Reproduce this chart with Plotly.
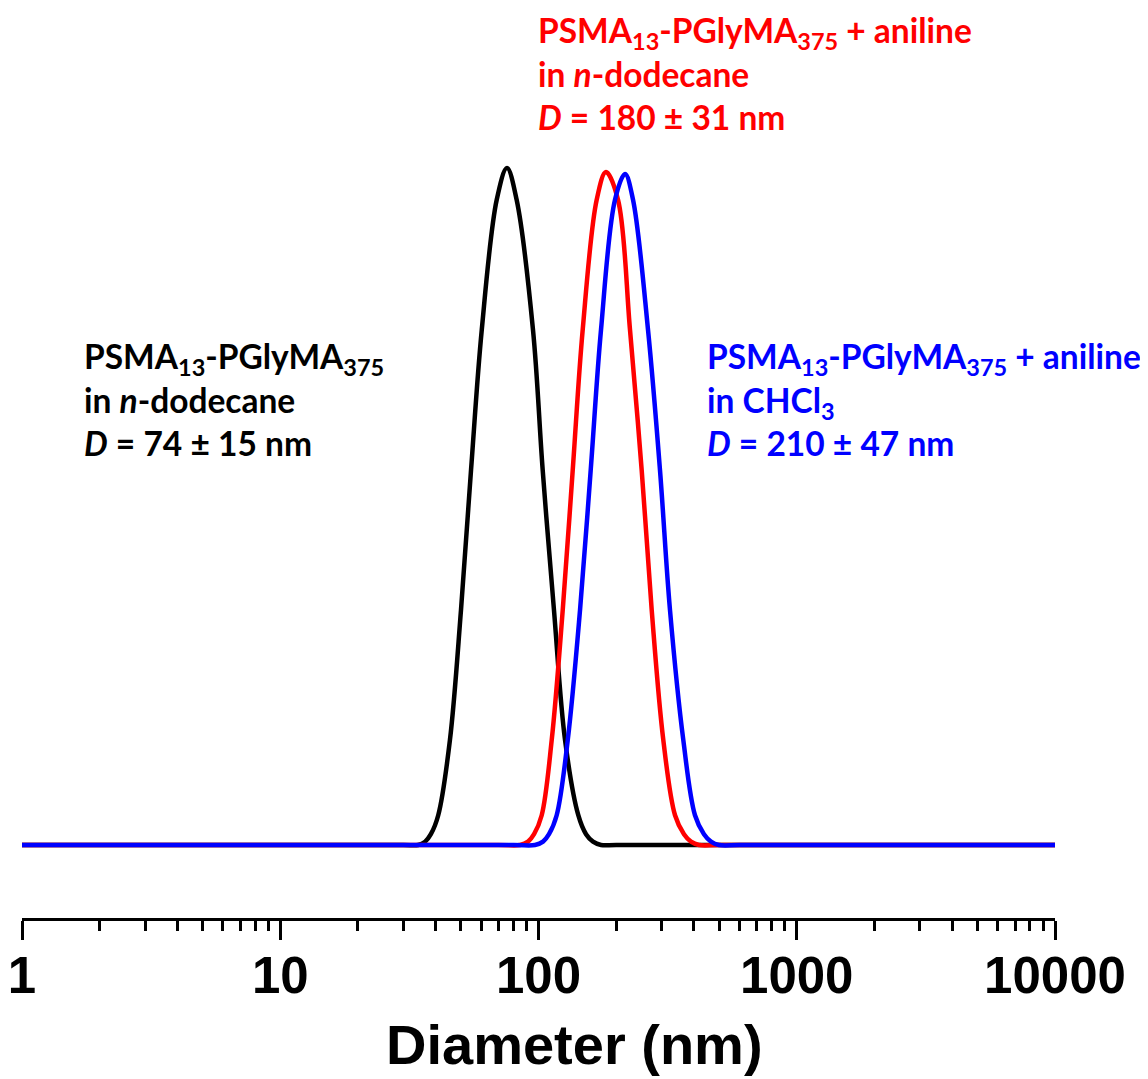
import plotly.graph_objects as go

# Hydrodynamic diameter (nm) and normalised intensity
black_d = [1, 10, 30, 34.2, 36.4, 38.3, 40.9, 45.4, 50.1, 54.8, 60.3, 68.9, 75.5, 82.3, 95.2, 103.8, 114.8, 126.7, 142.6, 152.8, 162.6, 174.6, 200, 1000, 10000]
black_i = [0, 0, 0, 0, 0.5, 1.6, 4.4, 15.5, 34.7, 55.4, 76.1, 95.3, 100, 95.3, 76.1, 55.4, 34.7, 15.5, 4.4, 1.6, 0.5, 0, 0, 0, 0]

red_d = [1, 10, 70, 84.8, 91.1, 96.1, 102.9, 112.5, 124.1, 135.7, 148.3, 168.0, 182.5, 203.2, 226.1, 250.9, 274.4, 304.3, 337.8, 365.9, 389.5, 418.3, 500, 1000, 10000]
red_i = [0, 0, 0, 0, 0.5, 1.6, 4.4, 15.5, 34.7, 55.4, 76.1, 95.3, 99.4, 95.3, 76.1, 55.4, 34.7, 15.5, 4.4, 1.6, 0.5, 0, 0, 0, 0]

blue_d = [1, 10, 80, 96.9, 104.1, 109.8, 117.6, 129.8, 144.8, 159.3, 174.6, 197.8, 216.3, 232.3, 265.5, 295.4, 323.0, 363.7, 403.6, 437.3, 465.6, 500, 600, 1000, 10000]
blue_i = [0, 0, 0, 0, 0.5, 1.6, 4.4, 15.5, 34.7, 55.4, 76.1, 95.3, 99.1, 95.3, 76.1, 55.4, 34.7, 15.5, 4.4, 1.6, 0.5, 0, 0, 0, 0]

tick_vals = [1, 10, 100, 1000, 10000]
tick_text = ["1", "10", "100", "1000", "10000"]

fig = go.Figure()
for d, i, c in [(black_d, black_i, "#000000"), (red_d, red_i, "#FF0000"), (blue_d, blue_i, "#0000FF")]:
    fig.add_trace(go.Scatter(x=d, y=i, mode="lines",
                             line=dict(color=c, width=4.5, shape="spline", smoothing=1.0),
                             hoverinfo="skip"))

ann_font = "Lato, Open Sans, sans-serif"
fig.add_annotation(xref="paper", yref="paper", x=0.058, y=0.6755, xanchor="left", yanchor="middle",
                   align="left", showarrow=False,
                   text="<b>PSMA<sub>13</sub>-PGlyMA<sub>375</sub><br>in <i>n</i>-dodecane<br><i>D</i> = 74 ± 15 nm</b>",
                   font=dict(family=ann_font, size=33.5, color="#000000"))
fig.add_annotation(xref="paper", yref="paper", x=0.661, y=0.6755, xanchor="left", yanchor="middle",
                   align="left", showarrow=False,
                   text="<b>PSMA<sub>13</sub>-PGlyMA<sub>375</sub> + aniline<br>in CHCl<sub>3</sub><br><i>D</i> = 210 ± 47 nm</b>",
                   font=dict(family=ann_font, size=33.5, color="#0000FF"))
fig.add_annotation(xref="paper", yref="paper", x=0.4975, y=1.0995, xanchor="left", yanchor="middle",
                   align="left", showarrow=False,
                   text="<b>PSMA<sub>13</sub>-PGlyMA<sub>375</sub> + aniline<br>in <i>n</i>-dodecane<br><i>D</i> = 180 ± 31 nm</b>",
                   font=dict(family=ann_font, size=33.5, color="#FF0000"))
fig.add_annotation(xref="paper", yref="paper", x=0.535, y=-0.165, xanchor="center", yanchor="middle",
                   showarrow=False, text="<b>Diameter (nm)</b>",
                   font=dict(family="Liberation Sans, Arial, sans-serif", size=56, color="#000000"))

fig.update_layout(
    width=1140, height=1071,
    margin=dict(l=14, r=93, t=142, b=161),
    paper_bgcolor="white", plot_bgcolor="white",
    showlegend=False,
    xaxis=dict(type="log", range=[0, 4], showline=True, linecolor="black", linewidth=2.5,
               automargin=False, ticklabeloverflow="allow",
               ticks="outside", ticklen=19, tickwidth=2.5, tickcolor="black",
               tickvals=tick_vals, ticktext=tick_text, ticklabelstandoff=-8,
               tickfont=dict(family="Liberation Sans, Arial, sans-serif", size=51, color="black", weight="bold"),
               minor=dict(ticks="outside", ticklen=10, tickwidth=2.5, tickcolor="black", dtick="D1", showgrid=False),
               showgrid=False, zeroline=False),
    yaxis=dict(visible=False, automargin=False, range=[-10.78, 102.66], showgrid=False, zeroline=False),
)

fig.write_html("out.html")
